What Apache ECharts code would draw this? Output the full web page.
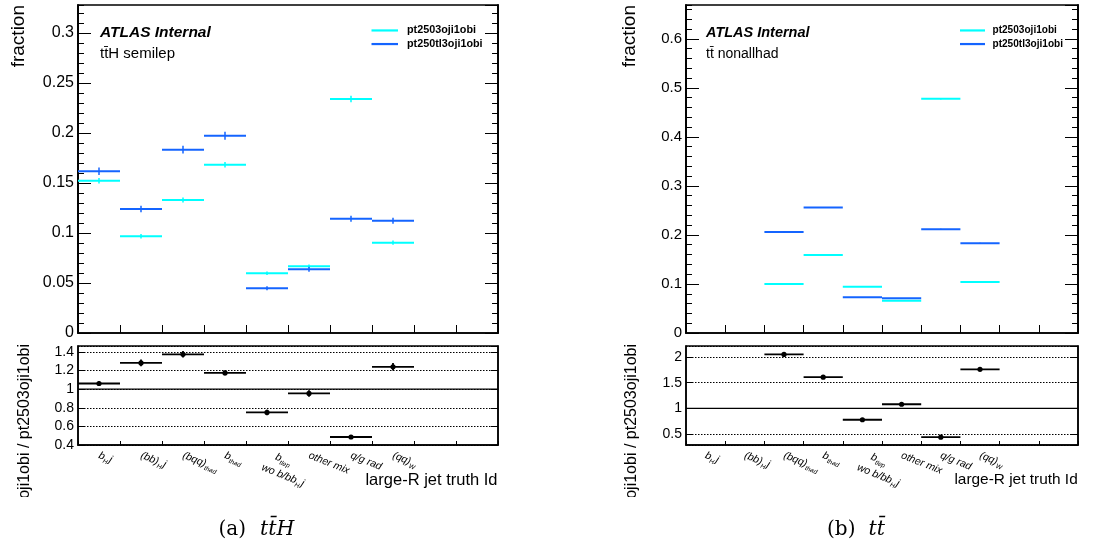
<!DOCTYPE html>
<html><head><meta charset="utf-8">
<script src="https://cdn.jsdelivr.net/npm/echarts@6/dist/echarts.min.js"></script>
<style>html,body{margin:0;padding:0;background:#fff}#c{width:1118px;height:550px}</style>
</head><body><div id="c"></div>
<script>
// ---- data ----
const categories = ['b_H j', '(bb)_H j', '(bqq)_thad', 'b_thad', 'b_tlep wo b/bb_H j', 'other mix', 'q/g rad', '(qq)_W', '', ''];
const categoryLabels = [
  '{i|b}{s|H}{i|j}',
  '{i|(bb)}{s|H}{i|j}',
  '{i|(bqq)}{s|thad}',
  '{i|b}{s|thad}',
  '\n{i|   b}{s|tlep}\n{i|wo b/bb}{s|H}{i|j}',
  '{i|other mix}',
  '{i|q/g rad}',
  '{i|(qq)}{s|W}',
  '', ''
];
const seriesNames = ['pt2503oji1obi', 'pt250tl3oji1obi'];
const ratioTitle = 'pt250tl3oji1obi / pt2503oji1obi';

// (a) ttH semilep
const tthCyan    = [0.1523, 0.0967, 0.1330, 0.1683, 0.0597, 0.0667, 0.2340, 0.0903, null, null];
const tthCyanErr = [0.0027, 0.0022, 0.0025, 0.0028, 0.0017, 0.0018, 0.0033, 0.0021, null, null];
const tthBlue    = [0.1617, 0.1240, 0.1833, 0.1973, 0.0447, 0.0637, 0.1143, 0.1123, null, null];
const tthBlueErr = [0.0037, 0.0032, 0.0039, 0.0040, 0.0020, 0.0025, 0.0030, 0.0030, null, null];
const tthRatio    = [1.061, 1.282, 1.375, 1.175, 0.750, 0.954, 0.486, 1.240, null, null];
const tthRatioErr = [0.025, 0.036, 0.035, 0.025, 0.030, 0.035, 0.012, 0.040, null, null];

// (b) ttbar nonallhad
const ttCyan    = [null, null, 0.1000, 0.1590, 0.0945, 0.0660, 0.4776, 0.1040, null, null];
const ttCyanErr = [null, null, 0.0008, 0.0009, 0.0007, 0.0006, 0.0012, 0.0008, null, null];
const ttBlue    = [null, null, 0.2060, 0.2560, 0.0727, 0.0707, 0.2115, 0.1830, null, null];
const ttBlueErr = [null, null, 0.0010, 0.0011, 0.0007, 0.0007, 0.0010, 0.0009, null, null];
const ttRatio    = [null, null, 2.050, 1.606, 0.778, 1.080, 0.440, 1.760, null, null];
const ttRatioErr = [null, null, 0.012, 0.010, 0.008, 0.010, 0.005, 0.012, null, null];
const ratioReference = 1;

// ---- helpers ----
const FONT = 'Liberation Sans, Helvetica, Arial, sans-serif';
const CYAN = '#00ffff', BLUE = '#1464ff';
const RS = 0.935; // text scale of right-hand pad

function toData(vals, errs) {
  const out = [];
  vals.forEach((v, i) => { if (v != null) out.push([i, v, errs[i]]); });
  return out;
}
function histItem(params, api) {
  const i = api.value(0), v = api.value(1), e = api.value(2);
  const c = api.coord([i, v]);
  const w = api.size([1, 0])[0];
  const t = api.coord([i, v + e]), b = api.coord([i, v - e]);
  const color = api.visual('color');
  return { type: 'group', children: [
    { type: 'line', shape: { x1: c[0] - w / 2, y1: c[1], x2: c[0] + w / 2, y2: c[1] }, style: { stroke: color, lineWidth: 2 } },
    { type: 'line', shape: { x1: c[0], y1: t[1], x2: c[0], y2: b[1] }, style: { stroke: color, lineWidth: 1.5 } }
  ] };
}
function ratioItem(params, api) {
  const i = api.value(0), v = api.value(1), e = api.value(2);
  const c = api.coord([i, v]);
  const w = api.size([1, 0])[0];
  const t = api.coord([i, v + e]), b = api.coord([i, v - e]);
  const color = api.visual('color');
  return { type: 'group', children: [
    { type: 'line', shape: { x1: c[0] - w / 2, y1: c[1], x2: c[0] + w / 2, y2: c[1] }, style: { stroke: color, lineWidth: 1.8 } },
    { type: 'line', shape: { x1: c[0], y1: t[1], x2: c[0], y2: b[1] }, style: { stroke: color, lineWidth: 1.8 } },
    { type: 'circle', shape: { cx: c[0], cy: c[1], r: 2.6 }, style: { fill: color } }
  ] };
}
function unityItem(params, api) {
  const y = api.coord([0, api.value(1)])[1];
  const cs = params.coordSys;
  return { type: 'line', shape: { x1: cs.x, y1: y, x2: cs.x + cs.width, y2: y }, style: { stroke: '#000', lineWidth: 1.3 } };
}

const gridBase = { show: true, borderColor: '#000', borderWidth: 1.5, backgroundColor: 'transparent' };
const grids = [
  Object.assign({ left: 78, top: 5, width: 420, height: 328 }, gridBase),
  Object.assign({ left: 78, top: 346, width: 420, height: 99 }, gridBase),
  Object.assign({ left: 686, top: 5, width: 392, height: 328 }, gridBase),
  Object.assign({ left: 686, top: 346, width: 392, height: 99 }, gridBase)
];
const AXLINE = { show: true, lineStyle: { color: '#000', width: 1.5 } };

function xTop(g) {
  return { type: 'category', gridIndex: g, data: categories, boundaryGap: true,
    axisLine: AXLINE, axisLabel: { show: false }, splitLine: { show: false },
    axisTick: { show: true, inside: true, length: 8, interval: 0, alignWithLabel: false, lineStyle: { color: '#000', width: 1 } } };
}
function xRatio(g) {
  return { type: 'category', gridIndex: g, data: categories, boundaryGap: true,
    axisLine: AXLINE, splitLine: { show: false },
    axisTick: { show: true, inside: true, length: 4, interval: 0, alignWithLabel: false, lineStyle: { color: '#000', width: 1 } },
    axisLabel: { interval: 0, rotate: -22, margin: 10, lineHeight: 11,
      formatter: (v, idx) => categoryLabels[idx],
      rich: {
        i: { fontSize: 10.5, fontStyle: 'italic', fontFamily: FONT, color: '#000', lineHeight: 15 },
        s: { fontSize: 6.5, fontStyle: 'italic', fontFamily: FONT, color: '#000', lineHeight: 15, verticalAlign: 'bottom', padding: [0, 1, 0, 0] }
      } } };
}
function yAx(g, opts) {
  const base = { type: 'value', gridIndex: g, axisLine: AXLINE, splitLine: { show: false },
    axisTick: { show: true, inside: true, length: opts.tick, lineStyle: { color: '#000', width: 1 } },
    axisLabel: opts.label ? { show: true, fontSize: opts.fs, fontFamily: FONT, color: '#000', margin: 4,
      showMaxLabel: false, showMinLabel: opts.showMin !== false } : { show: false },
    position: opts.pos || 'left', min: opts.min, max: opts.max };
  if (opts.interval != null) base.interval = opts.interval;
  if (opts.splitNumber != null) base.splitNumber = opts.splitNumber;
  if (opts.split) base.splitLine = { show: true, lineStyle: { color: '#000', width: 1, type: [1.5, 1.5] } };
  return base;
}

const yAxes = [
  // grid 0 (ttH top)
  yAx(0, { min: 0, max: 0.328, interval: 0.05, tick: 13, label: true, fs: 16 }),
  yAx(0, { min: 0, max: 0.328, interval: 0.01, tick: 6 }),
  yAx(0, { min: 0, max: 0.328, interval: 0.05, tick: 13, pos: 'right' }),
  yAx(0, { min: 0, max: 0.328, interval: 0.01, tick: 6, pos: 'right' }),
  // grid 1 (ttH ratio)
  yAx(1, { min: 0.4, max: 1.464, interval: 0.2, tick: 7, label: true, fs: 14, split: true }),
  yAx(1, { min: 0.4, max: 1.464, interval: 0.2, tick: 7, pos: 'right' }),
  // grid 2 (tt top)
  yAx(2, { min: 0, max: 0.669, interval: 0.1, tick: 13, label: true, fs: 16 * RS }),
  yAx(2, { min: 0, max: 0.669, interval: 0.02, tick: 6 }),
  yAx(2, { min: 0, max: 0.669, interval: 0.1, tick: 13, pos: 'right' }),
  yAx(2, { min: 0, max: 0.669, interval: 0.02, tick: 6, pos: 'right' }),
  // grid 3 (tt ratio)
  yAx(3, { min: 0.287, max: 2.213, splitNumber: 4, tick: 7, label: true, fs: 14, split: true, showMin: false }),
  yAx(3, { min: 0.287, max: 2.213, splitNumber: 4, tick: 7, pos: 'right' })
];

const series = [
  { type: 'custom', name: seriesNames[0], xAxisIndex: 0, yAxisIndex: 0, itemStyle: { color: CYAN }, renderItem: histItem, data: toData(tthCyan, tthCyanErr), z: 3 },
  { type: 'custom', name: seriesNames[1], xAxisIndex: 0, yAxisIndex: 0, itemStyle: { color: BLUE }, renderItem: histItem, data: toData(tthBlue, tthBlueErr), z: 4 },
  { type: 'custom', name: 'unity-a', xAxisIndex: 1, yAxisIndex: 4, renderItem: unityItem, data: [[0, ratioReference]], z: 2 },
  { type: 'custom', name: 'ratio-a', xAxisIndex: 1, yAxisIndex: 4, itemStyle: { color: '#000' }, renderItem: ratioItem, data: toData(tthRatio, tthRatioErr), z: 4 },
  { type: 'custom', name: seriesNames[0], xAxisIndex: 2, yAxisIndex: 6, itemStyle: { color: CYAN }, renderItem: histItem, data: toData(ttCyan, ttCyanErr), z: 3 },
  { type: 'custom', name: seriesNames[1], xAxisIndex: 2, yAxisIndex: 6, itemStyle: { color: BLUE }, renderItem: histItem, data: toData(ttBlue, ttBlueErr), z: 4 },
  { type: 'custom', name: 'unity-b', xAxisIndex: 3, yAxisIndex: 10, renderItem: unityItem, data: [[0, ratioReference]], z: 2 },
  { type: 'custom', name: 'ratio-b', xAxisIndex: 3, yAxisIndex: 10, itemStyle: { color: '#000' }, renderItem: ratioItem, data: toData(ttRatio, ttRatioErr), z: 4 }
];

function legendAt(left, s, w, pad) {
  return { data: seriesNames, left: left, top: 24.2, orient: 'vertical', icon: 'rect', itemWidth: w, itemHeight: 2.2,
    itemGap: 1.1, padding: 0, selectedMode: false,
    textStyle: { fontSize: 10.8 * s, fontWeight: 'bold', fontFamily: FONT, color: '#000', lineHeight: 12.5, padding: [0, 0, 0, pad] } };
}

function txt(x, y, text, o) {
  return { type: 'text', x: x, y: y, rotation: o.rot || 0, z: o.z || 50,
    style: Object.assign({ text: text, fill: '#000', fontFamily: o.ff || FONT, fontSize: o.fs, fontWeight: o.fw || 'normal',
      fontStyle: o.fst || 'normal', textAlign: o.align || 'left', align: o.align || 'left',
      textVerticalAlign: o.va || 'middle', verticalAlign: o.va || 'middle' }, o.extra || {}) };
}
const SERIF = 'DejaVu Serif, Liberation Serif, serif';
const graphics = [
  txt(100, 33, 'ATLAS Internal', { fs: 15.5, fw: 'bold', fst: 'italic' }),
  txt(100, 54, 'tt\u0304H semilep', { fs: 15 }),
  txt(706, 33, 'ATLAS Internal', { fs: 15.5 * RS, fw: 'bold', fst: 'italic' }),
  txt(706, 54, 'tt\u0304 nonallhad', { fs: 15 * RS }),
  txt(19, 5, 'fraction', { fs: 19, rot: Math.PI / 2, align: 'right' }),
  txt(630, 5, 'fraction', { fs: 19, rot: Math.PI / 2, align: 'right' }),
  txt(25, 344, ratioTitle, { fs: 16, rot: Math.PI / 2, align: 'right' }),
  txt(631.5, 344, ratioTitle, { fs: 16, rot: Math.PI / 2, align: 'right' }),
  { type: 'rect', shape: { x: 0, y: 497, width: 50, height: 53 }, style: { fill: '#fff' }, z: 60 },
  { type: 'rect', shape: { x: 605, y: 497, width: 50, height: 53 }, style: { fill: '#fff' }, z: 60 },
  txt(497.5, 480, 'large-R jet truth Id', { fs: 16.5, align: 'right' }),
  txt(1077.7, 480, 'large-R jet truth Id', { fs: 16.5 * RS, align: 'right' }),
  txt(256.5, 530, '{a|(a)}{b|tt\u0304H}', { fs: 20, ff: SERIF, align: 'center',
    extra: { rich: { a: { fontSize: 20, fontFamily: SERIF, fill: '#000', padding: [0, 14, 0, 0] },
                     b: { fontSize: 20.5, fontFamily: SERIF, fontStyle: 'italic', fill: '#000' } } } }),
  txt(856, 530, '{a|(b)}{b|tt\u0304}', { fs: 20, ff: SERIF, align: 'center',
    extra: { rich: { a: { fontSize: 20, fontFamily: SERIF, fill: '#000', padding: [0, 13, 0, 0] },
                     b: { fontSize: 20.5, fontFamily: SERIF, fontStyle: 'italic', fill: '#000' } } } })
];

const chart = echarts.init(document.getElementById('c'), null, { renderer: 'canvas' });
chart.setOption({
  animation: false,
  backgroundColor: '#fff',
  grid: grids,
  xAxis: [xTop(0), xRatio(1), xTop(2), xRatio(3)],
  yAxis: yAxes,
  legend: [legendAt(371.5, 1, 26.5, 4), legendAt(960, RS, 25, 2.5)],
  series: series,
  graphic: graphics
});
</script></body></html>
